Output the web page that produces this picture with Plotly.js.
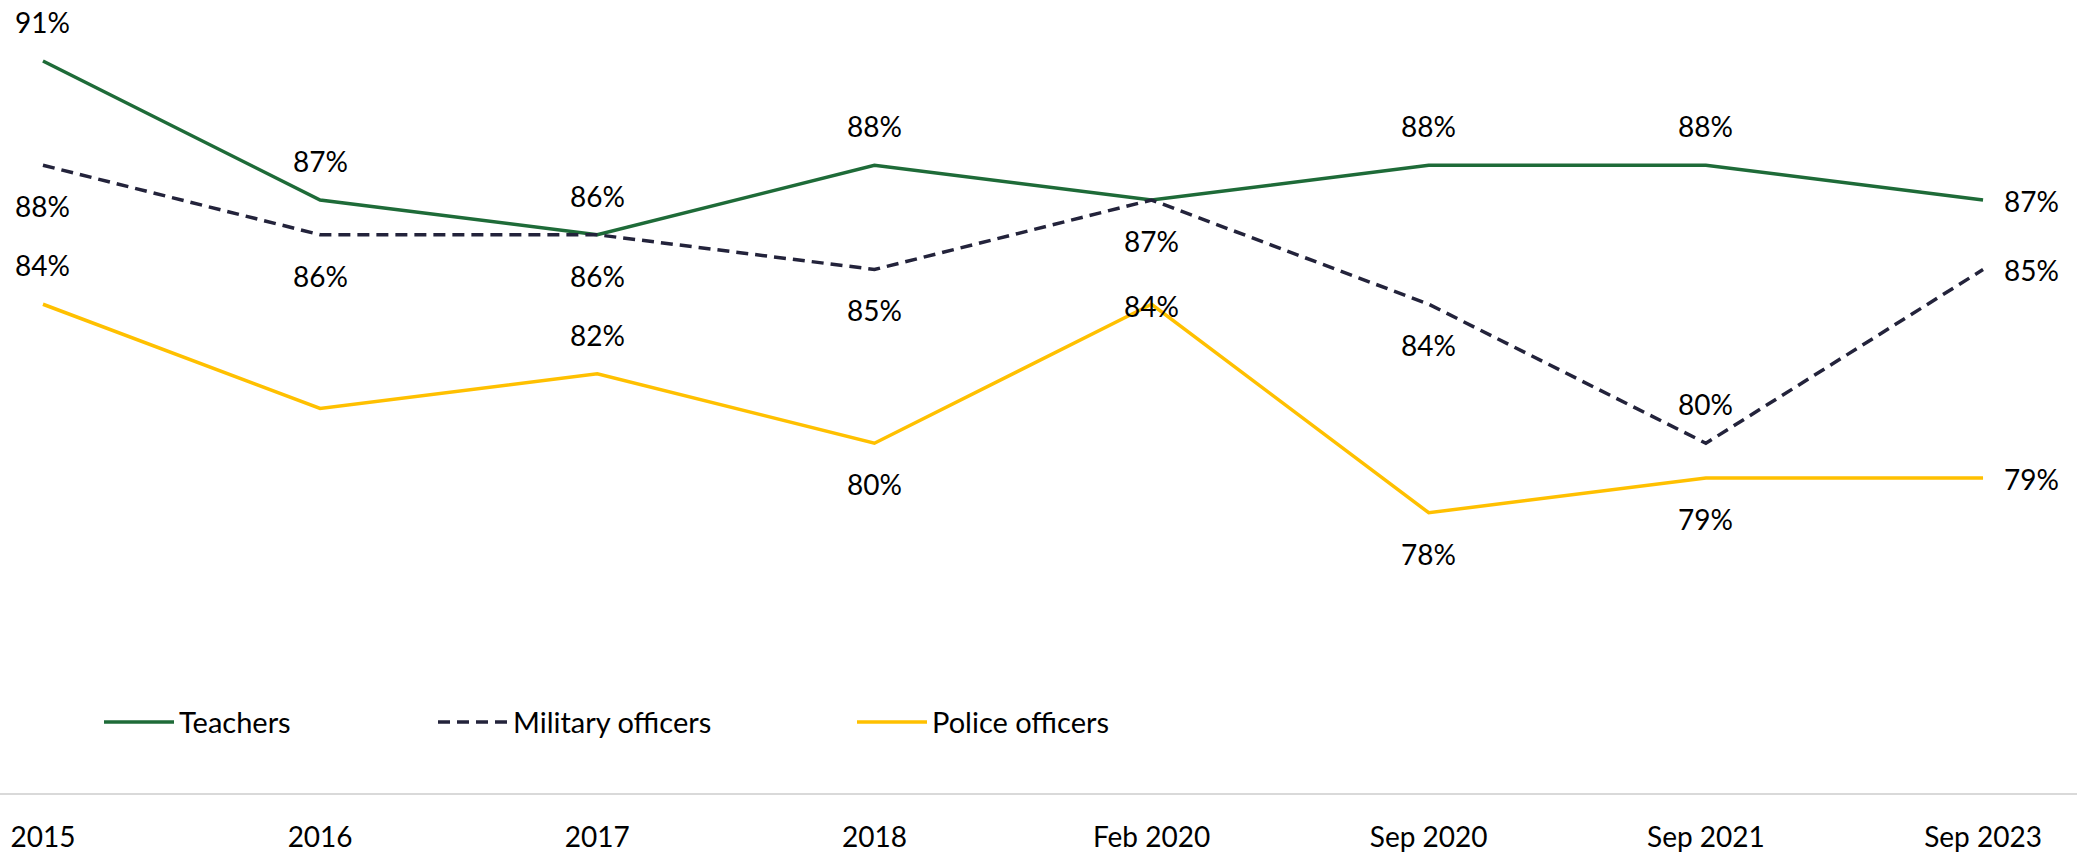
<!DOCTYPE html>
<html>
<head>
<meta charset="utf-8">
<script src="https://cdn.plot.ly/plotly-3.0.1.min.js"></script>
<style>
html,body{margin:0;padding:0;background:#fff;}
#chart{width:2077px;height:856px;}
</style>
</head>
<body>
<div id="chart"></div>
<script>
const categories = ['2015','2016','2017','2018','Feb 2020','Sep 2020','Sep 2021','Sep 2023'];
const teachers = [91,87,86,88,87,88,88,87];
const military = [88,86,86,85,87,84,80,85];
const police   = [84,81,82,80,84,78,79,79];

// label placement (style, not data)
const teachersLabelPos = ['above','above','above','above','none','above','above','right'];
const militaryLabelPos = ['below','below','below','below','below','below','above','right'];
const policeLabelPos   = ['above','none','above','below','center','below','below','right'];

const FONT = 'Lato, "Open Sans", sans-serif';
const colors = {teachers:'#1e6b38', military:'#23233b', police:'#ffc000'};

function makeLabels(vals, pos){
  const out = [];
  vals.forEach((v,i)=>{
    const p = pos[i];
    if(p==='none') return;
    // x given as category index so numeric-looking category names are not misread
    const a = {x: i, y: v, xref:'x', yref:'y', text: v + '%', showarrow:false,
      font:{family:FONT,size:28,color:'#000'}};
    if(p==='above'){ a.yshift = 39; }
    else if(p==='below'){ a.yshift = -41; }
    else if(p==='center'){ a.yshift = -2; }
    else if(p==='right'){ a.xanchor='left'; a.xshift = 19; a.yshift = -1; }
    out.push(a);
  });
  return out;
}

const traces = [
  {x:categories, y:teachers, name:'Teachers', type:'scatter', mode:'lines',
   line:{color:colors.teachers, width:3.5}, legend:'legend', hoverinfo:'skip'},
  {x:categories, y:military, name:'Military officers', type:'scatter', mode:'lines',
   line:{color:colors.military, width:3.5, dash:'12px,7px'}, legend:'legend2', hoverinfo:'skip'},
  {x:categories, y:police, name:'Police officers', type:'scatter', mode:'lines',
   line:{color:colors.police, width:3.5}, legend:'legend3', hoverinfo:'skip'}
];

const legendBase = {orientation:'h', yanchor:'middle', y:0.0895, xanchor:'left',
  font:{family:FONT,size:29,color:'#000'}, bgcolor:'rgba(0,0,0,0)', itemwidth:70,
  traceorder:'normal'};

const layout = {
  width:2077, height:856,
  margin:{l:0,r:0,t:0,b:63,pad:0},
  paper_bgcolor:'#fff', plot_bgcolor:'#fff',
  font:{family:FONT,size:28,color:'#000'},
  showlegend:true,
  legend: Object.assign({}, legendBase, {x:99/2077}),
  legend2: Object.assign({}, legendBase, {x:433/2077}),
  legend3: Object.assign({}, legendBase, {x:852/2077}),
  xaxis:{type:'category', range:[-0.155,7.339], showgrid:false, zeroline:false,
    showline:true, linecolor:'#d9d9d9', linewidth:2,
    ticks:'', ticklabelstandoff:18, automargin:false,
    tickfont:{family:FONT,size:28,color:'#000'}},
  yaxis:{range:[69.935,92.755], showgrid:false, zeroline:false, showline:false,
    showticklabels:false, ticks:'', automargin:false},
  annotations: [].concat(
    makeLabels(teachers, teachersLabelPos),
    makeLabels(military, militaryLabelPos),
    makeLabels(police, policeLabelPos))
};

Plotly.newPlot('chart', traces, layout, {staticPlot:true, displayModeBar:false});
</script>
</body>
</html>
